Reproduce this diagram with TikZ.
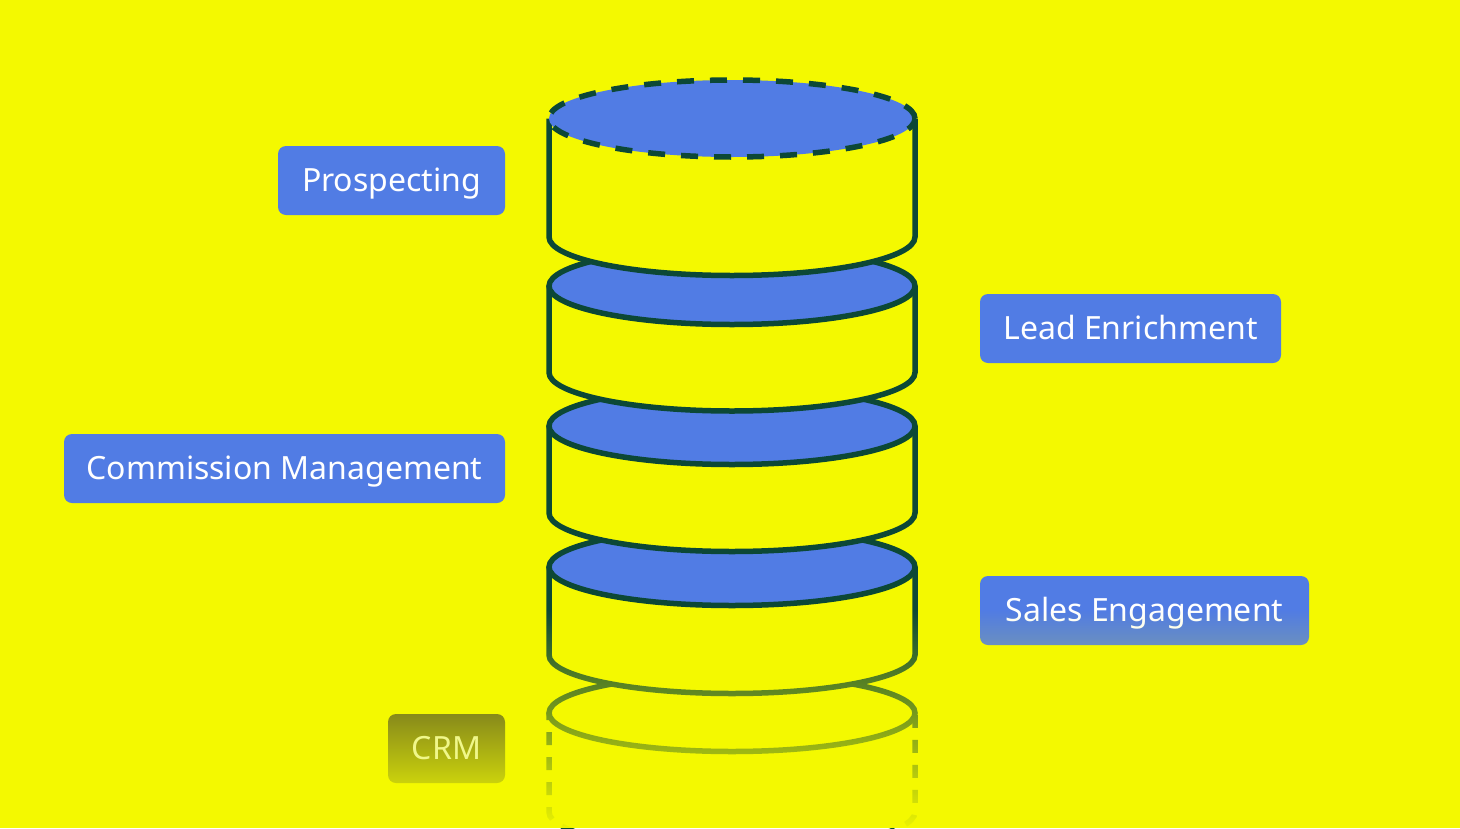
\documentclass[tikz,border=0pt]{standalone}
\usepackage{fontspec}
\setmainfont{Noto Sans}
\usetikzlibrary{fadings}
\definecolor{bgyellow}{HTML}{F4F900}
\definecolor{layerblue}{HTML}{517CE4}
\definecolor{strokegreen}{HTML}{0C4836}
\definecolor{crmtop}{HTML}{878A1A}
\definecolor{crmbot}{HTML}{CBD20C}
\definecolor{crmtext}{HTML}{F0F78A}
\tikzfading[name=fadedown, top color=transparent!100, bottom color=transparent!3]
\tikzset{
  label box/.style={rounded corners=8pt, fill=layerblue, text=white, minimum height=69pt,
    inner sep=0pt, text height=24pt, text depth=3pt, font=\fontsize{32}{36}\selectfont},
  body fill/.style={fill=bgyellow},
  body line/.style={draw=strokegreen, line width=5.5pt},
}
\newcommand{\cylayer}[2]{%
  \fill[body fill] (549,#1) -- (549,#2) arc[start angle=180, end angle=360, x radius=183pt, y radius=38.5pt]
     -- (915,#1) arc[start angle=0, end angle=-180, x radius=183pt, y radius=38.5pt] -- cycle;
  \draw[body line] (549,#1) -- (549,#2) arc[start angle=180, end angle=360, x radius=183pt, y radius=38.5pt] -- (915,#1);
}
\begin{document}
\begin{tikzpicture}[x=1pt, y=-1pt]
\fill[bgyellow] (0,0) rectangle (1460,828);
\useasboundingbox (0,0) rectangle (1460,828);
% faded bottom layer
\draw[strokegreen, line width=5.5pt, dash pattern=on 13pt off 12pt, dash phase=-19pt]
  (549,713) -- (549,812) arc[start angle=180, end angle=360, x radius=183pt, y radius=38.5pt] -- (915,713);
\filldraw[fill=bgyellow, draw=strokegreen, line width=5.5pt] (732,713) ellipse[x radius=183pt, y radius=38.5pt];
% layer 4
\cylayer{567}{655}
\filldraw[fill=layerblue, draw=strokegreen, line width=5.5pt] (732,567) ellipse[x radius=183pt, y radius=38.5pt];
% layer 3
\cylayer{426}{513}
\filldraw[fill=layerblue, draw=strokegreen, line width=5.5pt] (732,426) ellipse[x radius=183pt, y radius=38.5pt];
% layer 2
\cylayer{286}{372.5}
\filldraw[fill=layerblue, draw=strokegreen, line width=5.5pt] (732,286) ellipse[x radius=183pt, y radius=38.5pt];
% layer 1
\cylayer{118.5}{237}
\fill[layerblue] (732,118.5) ellipse[x radius=183pt, y radius=38.5pt];
\draw[strokegreen, line width=5.5pt, dash pattern=on 17pt off 16pt] (732,118.5) ellipse[x radius=183pt, y radius=38.5pt];
% labels
\node[label box, minimum width=227pt] (prospecting) at (391.5,180.5) {Prospecting};
\node[label box, minimum width=301pt] (lead) at (1130.5,328.5) {Lead Enrichment};
\node[label box, minimum width=441pt] (commission) at (284.5,468.5) {Commission Management};
\node[label box, minimum width=329pt] (sales) at (1144.5,610.5) {Sales Engagement};
% fade overlay
\fill[bgyellow, path fading=fadedown] (0,610) rectangle (1460,828);
\node[label box, minimum width=117pt, fill=none, top color=crmtop, bottom color=crmbot, text=crmtext] (crm) at (446.5,748.5) {CRM};
\end{tikzpicture}
\end{document}
